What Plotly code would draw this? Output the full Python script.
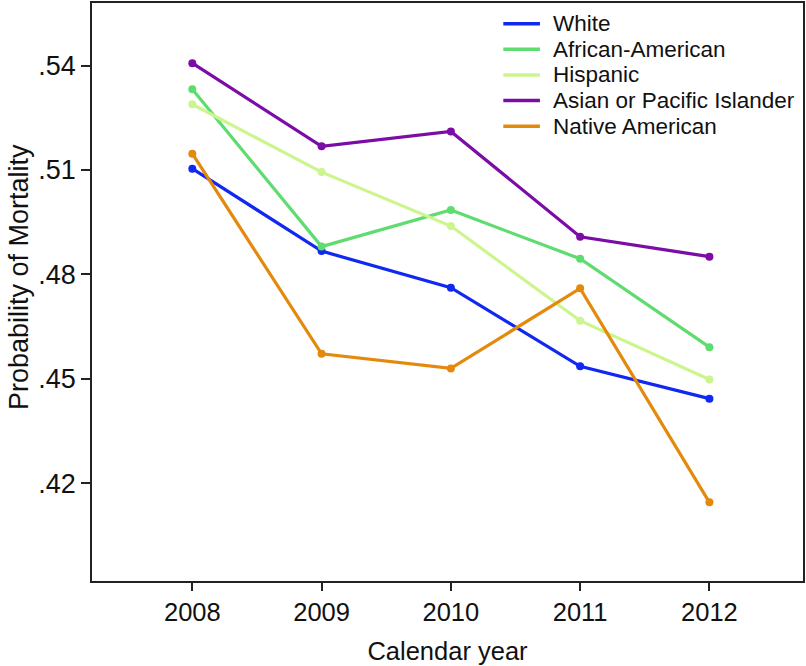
import plotly.graph_objects as go

years = [2008, 2009, 2010, 2011, 2012]
series_names = ["White", "African-American", "Hispanic", "Asian or Pacific Islander", "Native American"]
white = [0.5104, 0.4867, 0.4762, 0.4536, 0.4443]
african_american = [0.5332, 0.4880, 0.4985, 0.4845, 0.4591]
hispanic = [0.5289, 0.5094, 0.4939, 0.4667, 0.4498]
asian_pi = [0.5407, 0.5168, 0.5211, 0.4908, 0.4851]
native_american = [0.5147, 0.4572, 0.4530, 0.4760, 0.4145]
colors = ["#1028f0", "#5fdc70", "#cdf58e", "#7b0ca6", "#e38a0c"]

y_tickvals = [0.42, 0.45, 0.48, 0.51, 0.54]
y_ticktext = [".42", ".45", ".48", ".51", ".54"]
x_tickvals = years
x_ticktext = ["2008", "2009", "2010", "2011", "2012"]

FONT = "Liberation Sans, Arial, Helvetica, sans-serif"

fig = go.Figure()
all_values = [white, african_american, hispanic, asian_pi, native_american]
for name, vals, col in zip(series_names, all_values, colors):
    fig.add_trace(go.Scatter(
        x=years, y=vals, name=name, mode="lines+markers",
        line=dict(color=col, width=3.2),
        marker=dict(color=col, size=8),
        showlegend=False,
    ))

# Manual legend (top right, inside plot)
row_top = 0.9643
row_step = 0.0444
for i, (name, col) in enumerate(zip(series_names, colors)):
    yy = row_top - i * row_step
    fig.add_shape(type="line", xref="paper", yref="paper",
                  x0=0.5785, x1=0.630, y0=yy, y1=yy,
                  line=dict(color=col, width=3.5))
    fig.add_annotation(xref="paper", yref="paper", x=0.6455, y=yy,
                       text=name, showarrow=False, xanchor="left", yanchor="middle",
                       font=dict(family=FONT, size=22.5, color="#111"))

# y-axis title
fig.add_annotation(xref="paper", yref="paper", x=-0.1025, y=0.526,
                   text="Probability of Mortality", textangle=-90, showarrow=False,
                   xanchor="center", yanchor="middle", borderpad=0, borderwidth=0,
                   font=dict(family=FONT, size=27, color="#111"))

fig.update_layout(
    width=806, height=666,
    margin=dict(l=92, r=2, t=1, b=85),
    paper_bgcolor="white", plot_bgcolor="white",
    font=dict(family=FONT, color="#111"),
    xaxis=dict(
        range=[2007.224, 2012.724],
        tickvals=x_tickvals, ticktext=x_ticktext,
        showgrid=False, zeroline=False,
        showline=True, mirror=True, linecolor="#222", linewidth=1.6,
        ticks="outside", ticklen=8, tickwidth=1.5, tickcolor="#222",
        tickfont=dict(family=FONT, size=25.5, color="#111"),
        title=dict(text="Calendar year", font=dict(family=FONT, size=25.5, color="#111"), standoff=17),
    ),
    yaxis=dict(
        range=[0.3919, 0.5580],
        tickvals=y_tickvals, ticktext=y_ticktext,
        showgrid=False, zeroline=False,
        showline=True, mirror=True, linecolor="#222", linewidth=1.6,
        ticks="outside", ticklen=9, tickwidth=1.5, tickcolor="#222",
        tickfont=dict(family=FONT, size=27, color="#111"),
        ticklabelstandoff=0,
    ),
)

fig.write_html("out.html", config={"displayModeBar": False},
               post_script="document.body.style.margin='0';document.body.style.padding='0';")
